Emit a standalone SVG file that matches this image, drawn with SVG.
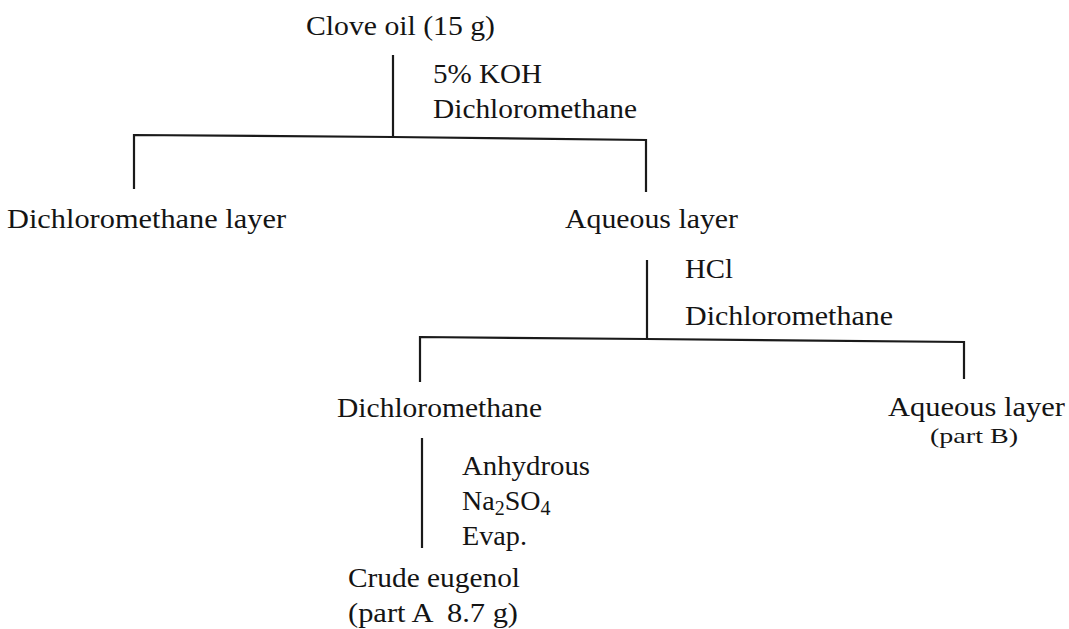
<svg xmlns="http://www.w3.org/2000/svg" width="1069" height="629" viewBox="0 0 1069 629">
<style>
text{font-family:"Liberation Serif","Times New Roman",serif;font-size:28px;fill:#141414}
.s{font-size:21px}
.ln{fill:none;stroke:#1a1a1a;stroke-width:2.2;stroke-linejoin:miter}
</style>
<rect width="1069" height="629" fill="#ffffff"/>
<g id="connectors">
<line class="ln" x1="393" y1="55" x2="393" y2="137"/>
<polyline class="ln" points="134,189 134,135 393,137 646,140 646,192"/>
<line class="ln" x1="647" y1="260" x2="647" y2="339"/>
<polyline class="ln" points="420,382 420,337 647,339 964,342 964,379"/>
<line class="ln" x1="422" y1="438" x2="422" y2="548"/>
</g>
<g id="clove-oil"><text x="306" y="35" textLength="189" lengthAdjust="spacingAndGlyphs">Clove oil (15 g)</text></g>
<g id="step1-reagents">
<text x="433" y="83" textLength="109" lengthAdjust="spacingAndGlyphs">5% KOH</text>
<text x="433" y="118" textLength="204" lengthAdjust="spacingAndGlyphs">Dichloromethane</text>
</g>
<g id="dcm-layer"><text x="7" y="228" textLength="279" lengthAdjust="spacingAndGlyphs">Dichloromethane layer</text></g>
<g id="aqueous-layer-1"><text x="565" y="228" textLength="173" lengthAdjust="spacingAndGlyphs">Aqueous layer</text></g>
<g id="step2-reagents">
<text x="685" y="278" textLength="48" lengthAdjust="spacingAndGlyphs">HCl</text>
<text x="685" y="325" textLength="208" lengthAdjust="spacingAndGlyphs">Dichloromethane</text>
</g>
<g id="dcm-2"><text x="337" y="417" textLength="205" lengthAdjust="spacingAndGlyphs">Dichloromethane</text></g>
<g id="aqueous-layer-2">
<text x="888" y="416" textLength="177" lengthAdjust="spacingAndGlyphs">Aqueous layer</text>
<text class="s" x="930" y="443" textLength="88" lengthAdjust="spacingAndGlyphs">(part B)</text>
</g>
<g id="step3-reagents">
<text x="462" y="475" textLength="128" lengthAdjust="spacingAndGlyphs">Anhydrous</text>
<text x="462" y="510">Na<tspan font-size="20" dy="5">2</tspan><tspan dy="-5">SO</tspan><tspan font-size="20" dy="5">4</tspan></text>
<text x="462" y="545" textLength="65" lengthAdjust="spacingAndGlyphs">Evap.</text>
</g>
<g id="crude-eugenol">
<text x="348" y="587" textLength="172" lengthAdjust="spacingAndGlyphs">Crude eugenol</text>
<text x="348" y="622" textLength="170" lengthAdjust="spacingAndGlyphs" xml:space="preserve">(part A  8.7 g)</text>
</g>
</svg>
